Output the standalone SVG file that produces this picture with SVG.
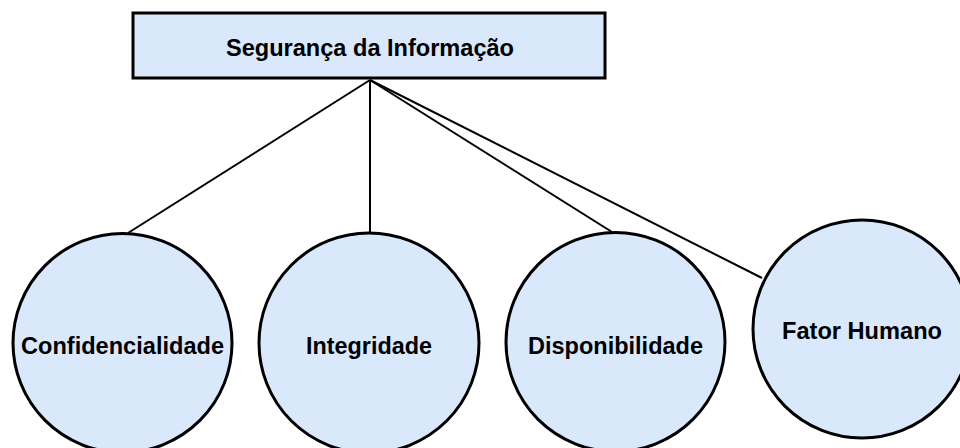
<svg xmlns="http://www.w3.org/2000/svg" width="960" height="448" viewBox="0 0 960 448">
<style>
.node{fill:#dae8fc;stroke:#000;stroke-width:3}
.lbl{font-family:"Liberation Sans",Arial,sans-serif;font-weight:bold;font-size:23px;fill:#000;text-anchor:middle}
.conn{stroke:#000;stroke-width:2;fill:none}
</style>
<rect width="960" height="448" fill="#fff"/>
<g id="connectors">
<line class="conn" x1="370" y1="80" x2="128" y2="233"/>
<line class="conn" x1="370" y1="80" x2="370" y2="233"/>
<line class="conn" x1="370" y1="80" x2="612" y2="232"/>
<line class="conn" x1="370" y1="80" x2="762" y2="278"/>
</g>
<g id="seguranca">
<rect class="node" x="133" y="13" width="472" height="65"/>
<text class="lbl" x="370" y="56" textLength="288" lengthAdjust="spacingAndGlyphs">Segurança da Informação</text>
</g>
<g id="confidencialidade">
<circle class="node" cx="122.5" cy="343" r="109.5"/>
<text class="lbl" x="122.5" y="354" textLength="203" lengthAdjust="spacingAndGlyphs">Confidencialidade</text>
</g>
<g id="integridade">
<circle class="node" cx="369" cy="343" r="110"/>
<text class="lbl" x="369" y="354" textLength="126" lengthAdjust="spacingAndGlyphs">Integridade</text>
</g>
<g id="disponibilidade">
<circle class="node" cx="615.5" cy="342" r="109.5"/>
<text class="lbl" x="615.5" y="354" textLength="175" lengthAdjust="spacingAndGlyphs">Disponibilidade</text>
</g>
<g id="fator-humano">
<circle class="node" cx="862" cy="329" r="109"/>
<text class="lbl" x="862" y="339" textLength="160" lengthAdjust="spacingAndGlyphs">Fator Humano</text>
</g>
</svg>
